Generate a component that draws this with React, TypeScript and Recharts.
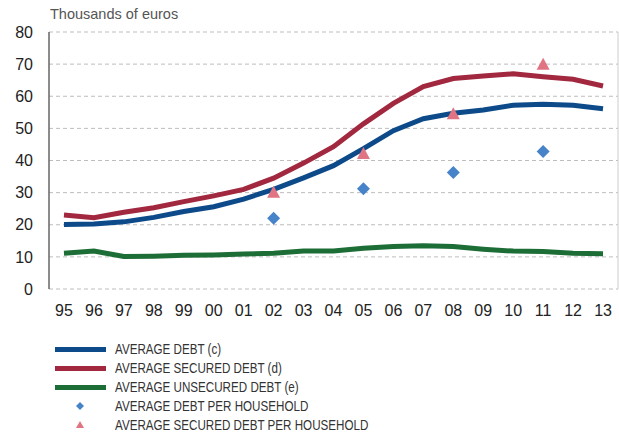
import {
  CartesianGrid,
  ComposedChart,
  Line,
  Scatter,
  XAxis,
  YAxis,
} from "recharts";

const years = ["95", "96", "97", "98", "99", "00", "01", "02", "03", "04", "05", "06", "07", "08", "09", "10", "11", "12", "13"];
const averageDebt = [20.1, 20.2, 20.9, 22.3, 24.1, 25.6, 28, 31, 34.6, 38.4, 43.7, 49.3, 53, 54.7, 55.7, 57.2, 57.5, 57.2, 56.1];
const securedDebt = [23, 22.2, 23.9, 25.3, 27.2, 29, 31, 34.5, 39.2, 44.3, 51.4, 57.8, 63, 65.5, 66.3, 67, 66.1, 65.3, 63.2];
const unsecuredDebt = [11.1, 11.8, 10.1, 10.2, 10.5, 10.6, 10.9, 11.1, 11.8, 11.8, 12.7, 13.2, 13.5, 13.2, 12.4, 11.8, 11.7, 11.1, 11];

const surveyYears = ["02", "05", "08", "11"];
const debtPerHousehold = [22, 31.2, 36.3, 42.8];
const securedPerHousehold = [30, 42, 54.4, 69.8];

const yTicks = [0, 10, 20, 30, 40, 50, 60, 70, 80];

const BLUE = "#0d4a89";
const RED = "#a1283f";
const GREEN = "#1d6d36";
const DIAMOND = "#4783c9";
const TRIANGLE = "#e07482";

const data = years.map((year, i) => ({
  x: i,
  year,
  debt: averageDebt[i],
  secured: securedDebt[i],
  unsecured: unsecuredDebt[i],
}));

const diamondData = surveyYears.map((y, i) => ({ x: years.indexOf(y), value: debtPerHousehold[i] }));
const triangleData = surveyYears.map((y, i) => ({ x: years.indexOf(y), value: securedPerHousehold[i] }));

const bandEdges = years.map((_, i) => i - 0.5).concat(years.length - 0.5);

const DiamondShape = (props: any) => {
  const { cx, cy } = props;
  const r = 6.5;
  return <path d={`M${cx},${cy - r}L${cx + r},${cy}L${cx},${cy + r}L${cx - r},${cy}Z`} fill={DIAMOND} />;
};

const TriangleShape = (props: any) => {
  const { cx, cy } = props;
  return <path d={`M${cx},${cy - 7}L${cx + 6.5},${cy + 5}L${cx - 6.5},${cy + 5}Z`} fill={TRIANGLE} />;
};

const legendItems = [
  { label: "AVERAGE DEBT (c)", kind: "line", color: BLUE },
  { label: "AVERAGE SECURED DEBT (d)", kind: "line", color: RED },
  { label: "AVERAGE UNSECURED DEBT (e)", kind: "line", color: GREEN },
  { label: "AVERAGE DEBT PER HOUSEHOLD", kind: "diamond", color: DIAMOND },
  { label: "AVERAGE SECURED DEBT PER HOUSEHOLD", kind: "triangle", color: TRIANGLE },
];

function LegendIcon({ kind, color }: { kind: string; color: string }) {
  return (
    <svg width={60} height={12} style={{ display: "block" }}>
      {kind === "line" && <rect x={0} y={4} width={51} height={5} fill={color} />}
      {kind === "diamond" && <path d="M25,2L29,6L25,10L21,6Z" fill={color} />}
      {kind === "triangle" && <path d="M25,2L29,9L21,9Z" fill={color} />}
    </svg>
  );
}

export default function App() {
  return (
    <div
      style={{
        position: "absolute",
        left: 0,
        top: 0,
        width: 619,
        height: 435,
        background: "#fff",
        fontFamily: "'Liberation Sans', Arial, sans-serif",
      }}
    >
      <div style={{ position: "absolute", left: 50, top: 6, fontSize: 14.5, color: "#555" }}>
        Thousands of euros
      </div>
      <ComposedChart
        width={619}
        height={435}
        data={data}
        margin={{ top: 32, right: 1, left: 0, bottom: 116 }}
      >
        <CartesianGrid horizontal vertical={false} stroke="#bdbdbd" strokeDasharray="4 3" />
        <CartesianGrid horizontal={false} vertical xAxisId="grid" stroke="#cccccc" />
        <XAxis
          xAxisId="grid"
          dataKey="x"
          type="number"
          domain={[-0.5, years.length - 0.5]}
          ticks={bandEdges}
          tick={false}
          tickSize={4}
          height={0}
          stroke="#333"
        />
        <XAxis
          dataKey="x"
          type="number"
          domain={[-0.5, years.length - 0.5]}
          ticks={years.map((_, i) => i)}
          tickFormatter={(v) => years[v]}
          axisLine={false}
          tickLine={false}
          tickSize={0}
          tickMargin={16}
          height={30}
          interval={0}
          tick={{ fontSize: 16, fill: "#222" }}
        />
        <YAxis
          domain={[0, 80]}
          ticks={yTicks}
          width={49}
          tickLine={false}
          tickSize={0}
          tickMargin={16}
          stroke="#333"
          tick={{ fontSize: 16, fill: "#222" }}
          interval={0}
        />
        <Line dataKey="debt" stroke={BLUE} strokeWidth={5} dot={false} isAnimationActive={false} />
        <Line dataKey="secured" stroke={RED} strokeWidth={5} dot={false} isAnimationActive={false} />
        <Line dataKey="unsecured" stroke={GREEN} strokeWidth={5} dot={false} isAnimationActive={false} />
        <Scatter data={diamondData} dataKey="value" shape={DiamondShape} isAnimationActive={false} />
        <Scatter data={triangleData} dataKey="value" shape={TriangleShape} isAnimationActive={false} />
      </ComposedChart>
      <div style={{ position: "absolute", left: 55, top: 339 }}>
        {legendItems.map((item) => (
          <div key={item.label} style={{ display: "flex", alignItems: "center", height: 19 }}>
            <LegendIcon kind={item.kind} color={item.color} />
            <span
              style={{
                display: "inline-block",
                fontSize: 14,
                color: "#333",
                whiteSpace: "nowrap",
                transform: "scaleX(0.83)",
                transformOrigin: "left center",
              }}
            >
              {item.label}
            </span>
          </div>
        ))}
      </div>
    </div>
  );
}
